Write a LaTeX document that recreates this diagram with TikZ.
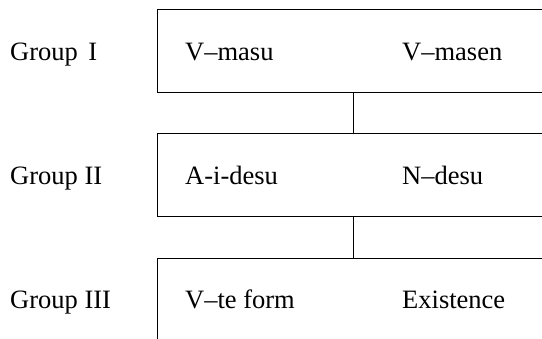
\documentclass[tikz,border=0pt]{standalone}
\usepackage{fontspec}
\setmainfont{Liberation Serif}
\begin{document}
\begin{tikzpicture}[x=1pt,y=-1pt,
  lbl/.style={anchor=base west, font=\fontsize{26.5}{30}\selectfont, inner sep=0pt},
  frame/.style={line width=1pt},
  panel/.style={draw=none, minimum width=385pt, minimum height=83pt, anchor=north west, inner sep=0pt, outer sep=0pt}]
\useasboundingbox (0,0) rectangle (542,339);
\node[panel] (b1) at (157,10) {};
\node[panel] (b2) at (157,134) {};
\node[panel, minimum height=80pt] (b3) at (157,259) {};
\draw[frame] (b1.north east) -- (b1.north west) -- (b1.south west) -- (b1.south east);
\draw[frame] (b2.north east) -- (b2.north west) -- (b2.south west) -- (b2.south east);
\draw[frame] (b3.north east) -- (b3.north west) -- (b3.south west);
\coordinate (c) at (353,0);
\draw[frame] (b1.south -| c) -- (b2.north -| c);
\draw[frame] (b2.south -| c) -- (b3.north -| c);
\node[lbl] (g1) at (10,61) {Group\hspace{0.4em}I};
\node[lbl] (g2) at (10,185) {Group II};
\node[lbl] (g3) at (10,309) {Group III};
\node[lbl] (a1) at (185,61) {V–masu};
\node[lbl] (a2) at (402,61) {V–masen};
\node[lbl] (b1t) at (185,185) {A-i-desu};
\node[lbl] (b2t) at (402,185) {N–desu};
\node[lbl] (c1) at (185,309) {V–te form};
\node[lbl] (c2) at (402,309) {Existence};
\end{tikzpicture}
\end{document}
